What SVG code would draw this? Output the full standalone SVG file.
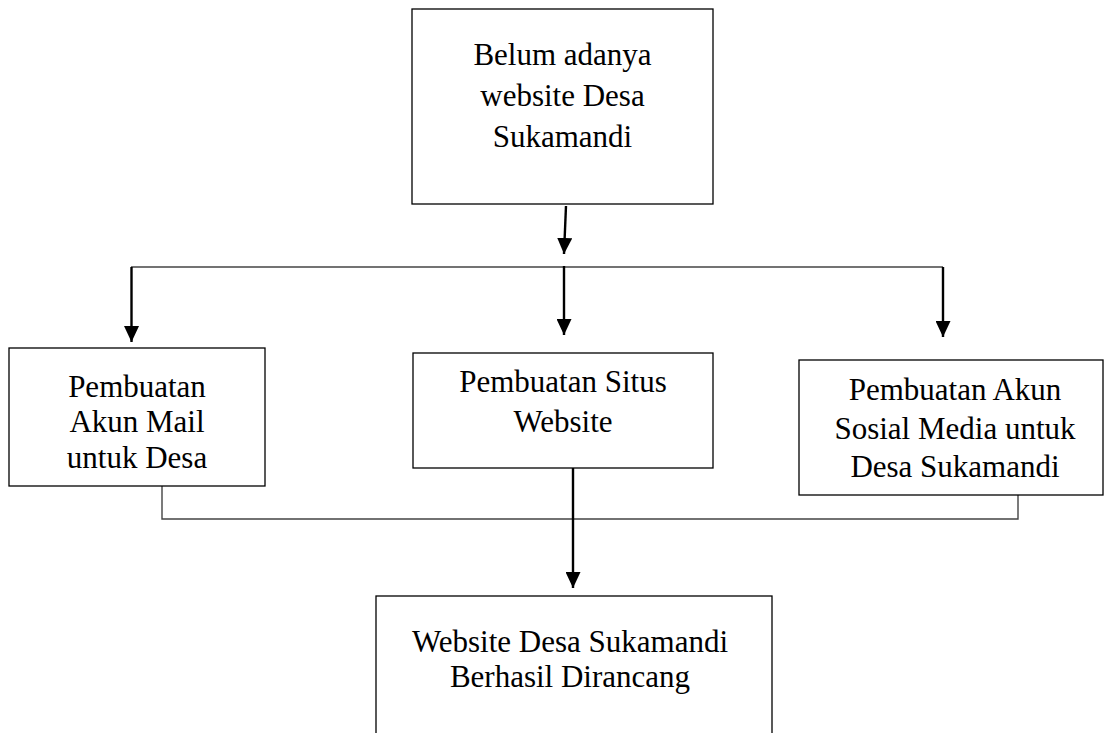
<svg xmlns="http://www.w3.org/2000/svg" width="1106" height="733" viewBox="0 0 1106 733">
<style>
.box{fill:#fff;stroke:#000;stroke-width:1.3}
.t{font-family:"Liberation Serif","Times New Roman",serif;font-size:31px;fill:#000;text-anchor:middle}
.arr{stroke:#000;stroke-width:2.4;fill:none}
.ln{stroke:#444;stroke-width:1.4;fill:none}
</style>
<defs>
<marker id="ah" viewBox="0 0 16 15" refX="16" refY="7.5" markerWidth="16" markerHeight="15" markerUnits="userSpaceOnUse" orient="auto">
<path d="M0,0 L16,7.5 L0,15 z" fill="#000"/>
</marker>
</defs>
<rect width="1106" height="733" fill="#fff"/>
<g id="connectors">
<line class="arr" x1="566" y1="206" x2="564" y2="254" marker-end="url(#ah)"/>
<line class="ln" x1="131" y1="267" x2="943" y2="267"/>
<line class="arr" x1="564" y1="266" x2="564" y2="335" marker-end="url(#ah)"/>
<line class="arr" x1="131.5" y1="267" x2="131.5" y2="342" marker-end="url(#ah)"/>
<line class="arr" x1="943" y1="267" x2="943" y2="337" marker-end="url(#ah)"/>
<polyline class="ln" points="162,486 162,519 1018,519 1018,495"/>
<line class="arr" x1="573" y1="468" x2="573" y2="588" marker-end="url(#ah)"/>
</g>
<g id="n1">
<rect class="box" x="412" y="9" width="301" height="195"/>
<text class="t" x="562.5" y="65">Belum adanya</text>
<text class="t" x="562.5" y="106">website Desa</text>
<text class="t" x="562.5" y="147">Sukamandi</text>
</g>
<g id="n2">
<rect class="box" x="9" y="348" width="256" height="138"/>
<text class="t" x="137" y="397">Pembuatan</text>
<text class="t" x="137" y="432">Akun Mail</text>
<text class="t" x="137" y="468">untuk Desa</text>
</g>
<g id="n3">
<rect class="box" x="413" y="353" width="300" height="115"/>
<text class="t" x="563" y="392">Pembuatan Situs</text>
<text class="t" x="563" y="432">Website</text>
</g>
<g id="n4">
<rect class="box" x="799" y="360" width="304" height="135"/>
<text class="t" x="955" y="400">Pembuatan Akun</text>
<text class="t" x="955" y="439">Sosial Media untuk</text>
<text class="t" x="955" y="477">Desa Sukamandi</text>
</g>
<g id="n5">
<rect class="box" x="376" y="596" width="396" height="160"/>
<text class="t" x="570" y="652">Website Desa Sukamandi</text>
<text class="t" x="570" y="687">Berhasil Dirancang</text>
</g>
</svg>
